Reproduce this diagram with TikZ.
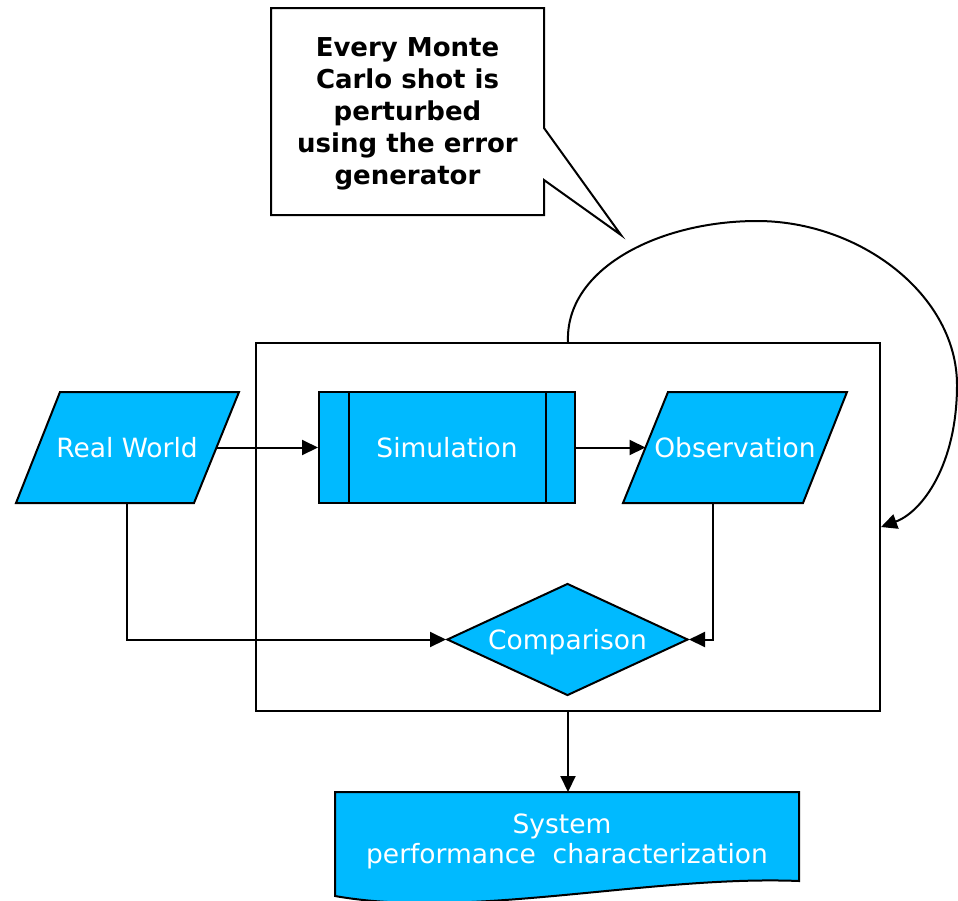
\documentclass[tikz,border=0pt]{standalone}
\usepackage{fontspec}
\setmainfont{DejaVu Sans}
\usetikzlibrary{arrows.meta,shapes.geometric}
\definecolor{flowblue}{RGB}{0,186,255}

\begin{document}
\begin{tikzpicture}[x=1pt,y=-1pt,
  thin line/.style={line width=2pt},
  conn/.style={thin line,-{Triangle[length=16pt,width=15pt]}},
  boxfill/.style={fill=flowblue,draw=black,thin line},
  flowtext/.style={text=white,inner sep=0pt,text depth=0pt,
    font=\fontsize{26.5}{32}\selectfont},
]
\useasboundingbox (0,0) rectangle (958,900);

% enclosing frame of the Monte Carlo loop
\node[draw,thin line,minimum width=624pt,minimum height=368pt,inner sep=0pt]
  (frame) at (568,527) {};

% callout with its pointer
\draw[fill=white,thin line,line join=miter] (271,8) -- (544,8) -- (544,128) -- (621,235)
  -- (544,180) -- (544,215) -- (271,215) -- cycle;
\node[font=\bfseries\fontsize{26}{32}\selectfont,align=center,inner sep=0pt]
  (note) at (407.5,114) {Every Monte\\Carlo shot is\\perturbed\\using the error\\generator};

% Real World (input parallelogram)
\draw[boxfill] (60,392) -- (239,392) -- (194,503) -- (16,503) -- cycle;
\node[flowtext] (rw) at (127,447.5) {Real World};
\coordinate (rw-e) at (216.5,447.5);
\coordinate (rw-s) at (127,503);

% Simulation (predefined process)
\node[boxfill,flowtext,minimum width=256pt,minimum height=111pt]
  (sim) at (447,447.5) {Simulation};
\draw[thin line] ([xshift=31pt]sim.north west) -- ([xshift=31pt]sim.south west);
\draw[thin line] ([xshift=-30pt]sim.north east) -- ([xshift=-30pt]sim.south east);

% Observation (parallelogram)
\draw[boxfill] (668,392) -- (847,392) -- (803,503) -- (623,503) -- cycle;
\node[flowtext] (obs) at (735,447.5) {Observation};
\coordinate (obs-w) at (645.5,447.5);
\coordinate (obs-s) at (713,503);

% Comparison (decision)
\node[diamond,aspect=2.152,boxfill,flowtext,minimum width=241pt,minimum height=112pt]
  (cmp) at (567.5,639.5) {Comparison};

% System performance characterization (document)
\draw[boxfill] (335,792) -- (799,792) -- (799,881)
  .. controls (650,875) and (470,920) .. (335,896) -- cycle;
\coordinate (doc-n) at (568,792);
\node[flowtext,align=center,font=\fontsize{26.5}{30}\selectfont]
  (sys) at (567,838.5) {System\hspace*{10pt}\\performance\ \ characterization};

% connectors
\draw[conn] (rw-e) -- (sim.west);
\draw[conn] (sim.east) -- (obs-w);
\draw[conn] (rw-s) |- (cmp.west);
\draw[conn] (obs-s) |- (cmp.east);
\draw[conn] (frame.south) -- (doc-n);
\draw[conn] (frame.north)
  .. controls (565,268) and (660,221) .. (757,221)
  .. controls (860,221) and (957,295) .. (957,385)
  .. controls (957,465) and (922,512) .. (frame.east);
\end{tikzpicture}
\end{document}
